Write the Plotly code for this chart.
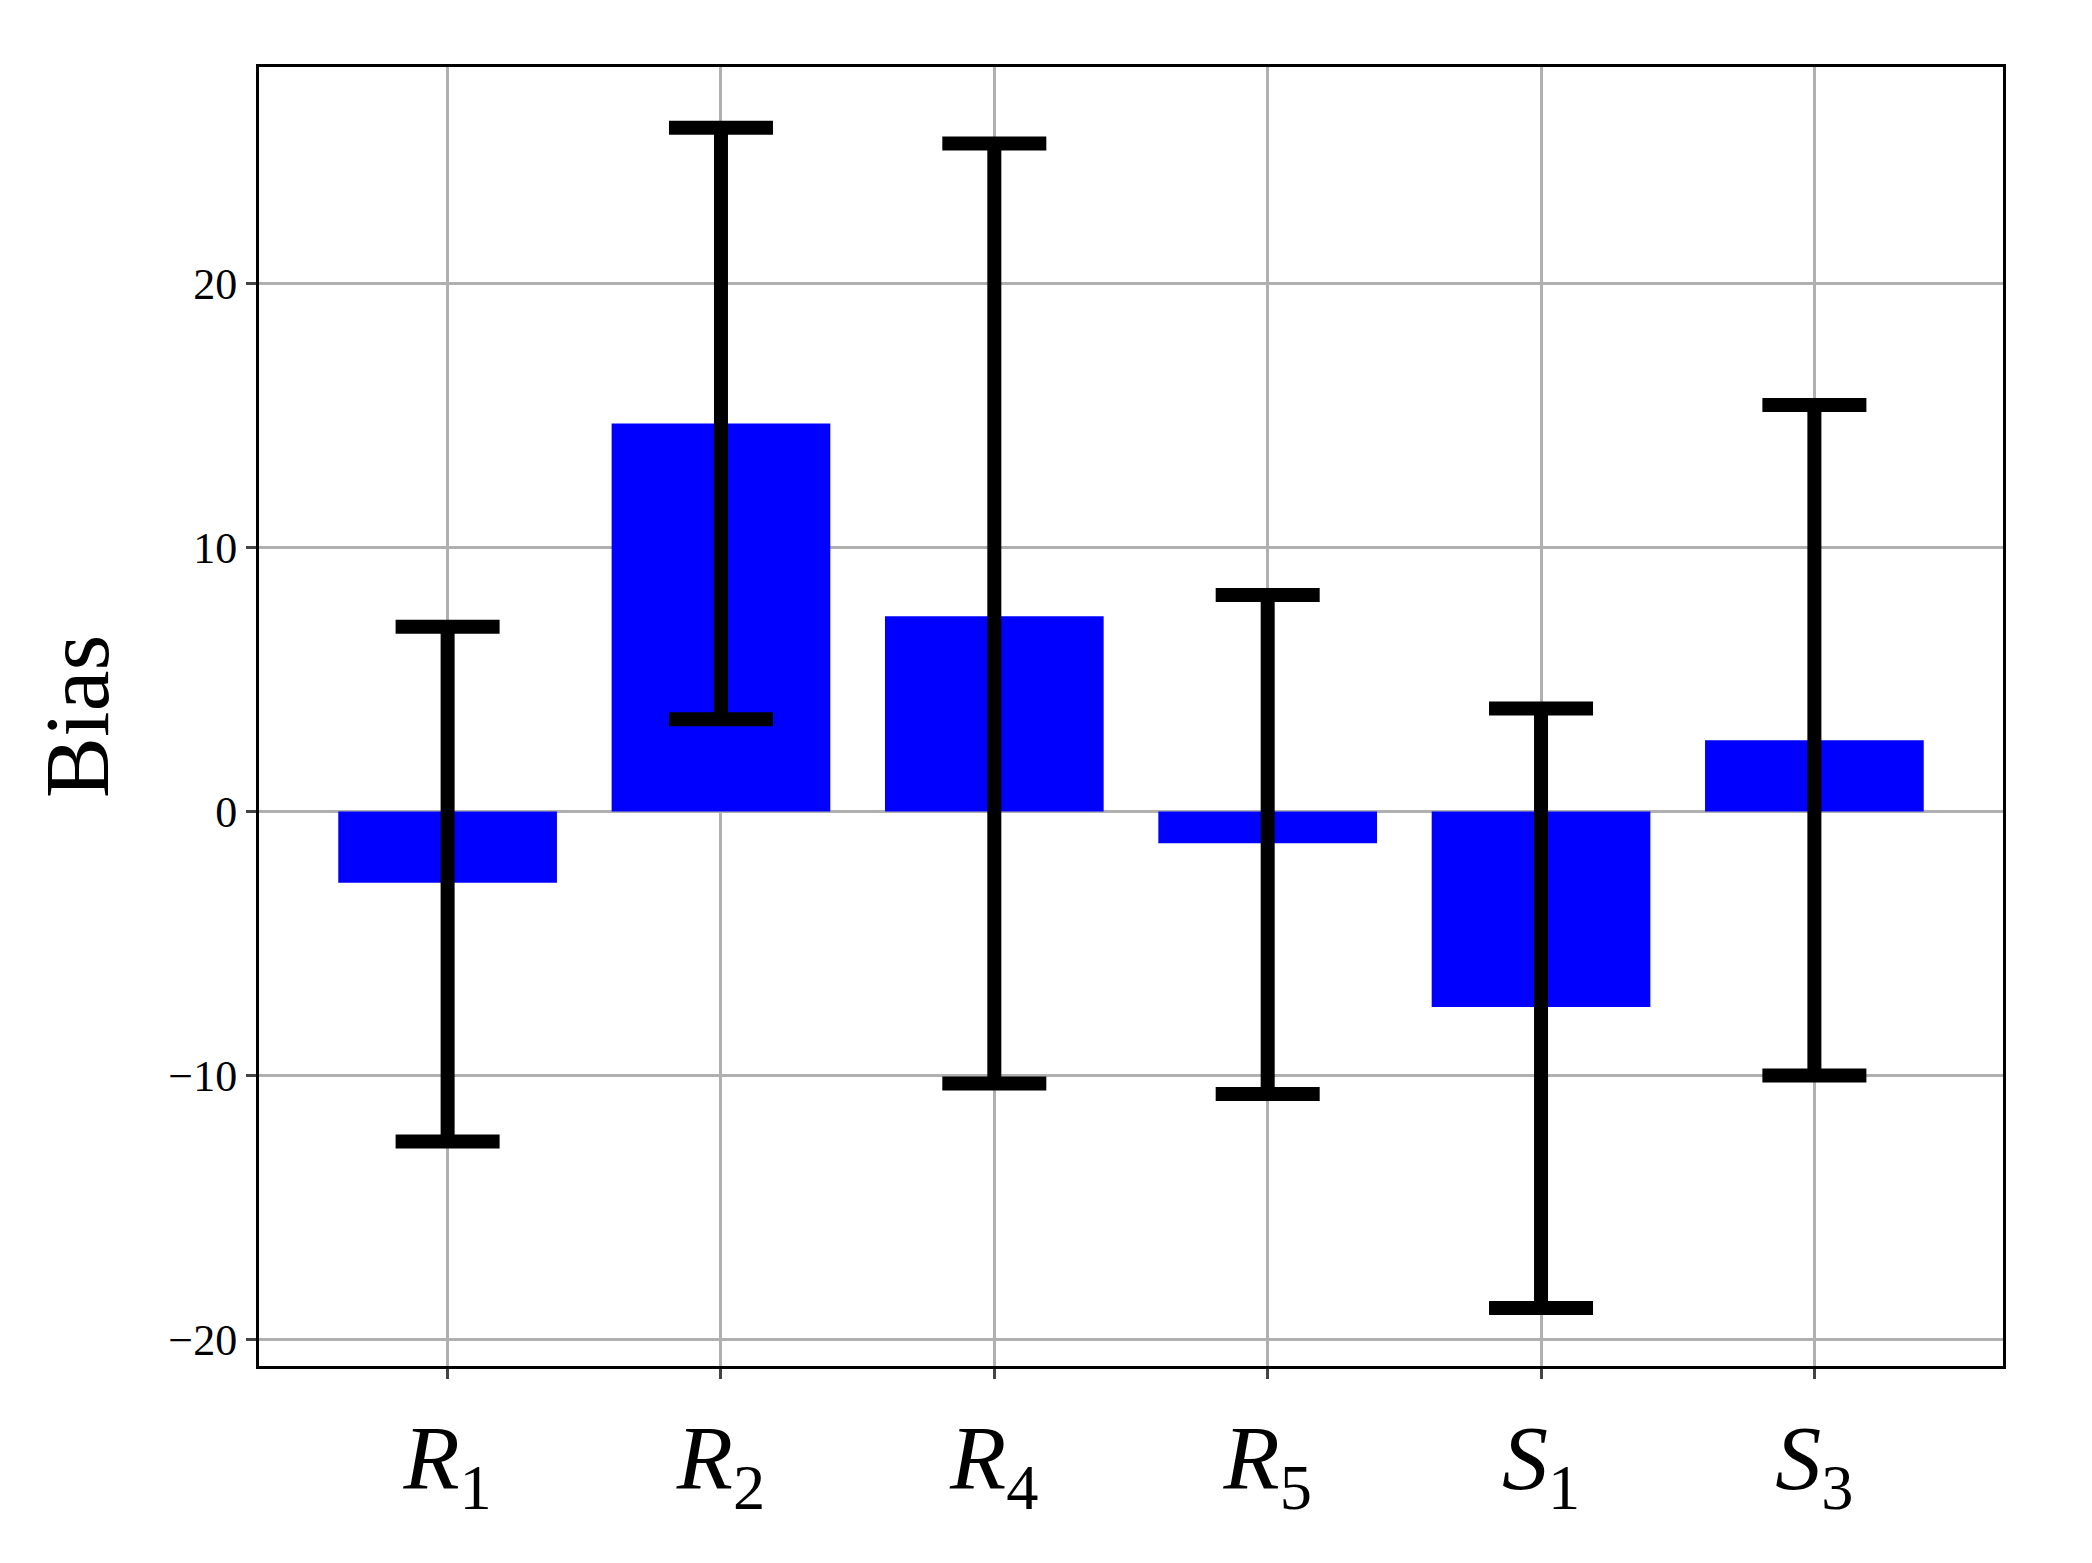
import plotly.graph_objects as go

categories = ["<i>R</i><sub>1</sub>", "<i>R</i><sub>2</sub>", "<i>R</i><sub>4</sub>",
              "<i>R</i><sub>5</sub>", "<i>S</i><sub>1</sub>", "<i>S</i><sub>3</sub>"]
bias = [-2.7, 14.7, 7.4, -1.2, -7.4, 2.7]
err_plus = [9.7, 11.2, 17.9, 9.4, 11.3, 12.7]
err_minus = [9.8, 11.2, 17.7, 9.5, 11.4, 12.7]

fig = go.Figure(go.Bar(
    x=list(range(len(categories))), y=bias, width=0.8,
    marker=dict(color="#0000ff", line=dict(width=0)),
    error_y=dict(type="data", symmetric=False, array=err_plus, arrayminus=err_minus,
                 color="black", thickness=14, width=52),
))
fig.update_layout(
    width=2092, height=1563, plot_bgcolor="white", paper_bgcolor="white",
    margin=dict(l=251, r=97, t=59, b=205),
    font=dict(family="Liberation Serif", color="black"),
    showlegend=False,
)
fig.update_xaxes(tickmode="array", tickvals=list(range(len(categories))), ticktext=categories,
                 range=[-0.69, 5.69], tickfont=dict(size=92), showgrid=True, gridcolor="#b0b0b0",
                 gridwidth=3, showline=True, linecolor="black", linewidth=3, mirror=True,
                 ticks="outside", ticklen=10, tickwidth=3, zeroline=False)
fig.update_yaxes(range=[-21.0, 28.2], tickvals=[-20, -10, 0, 10, 20],
                 ticktext=["−20", "−10", "0", "10", "20"], tickfont=dict(size=44),
                 title=dict(text="Bias", font=dict(size=92), standoff=30),
                 showgrid=True, gridcolor="#b0b0b0", gridwidth=3, zeroline=False,
                 showline=True, linecolor="black", linewidth=3, mirror=True,
                 ticks="outside", ticklen=10, tickwidth=3)
fig.write_html("out.html")
